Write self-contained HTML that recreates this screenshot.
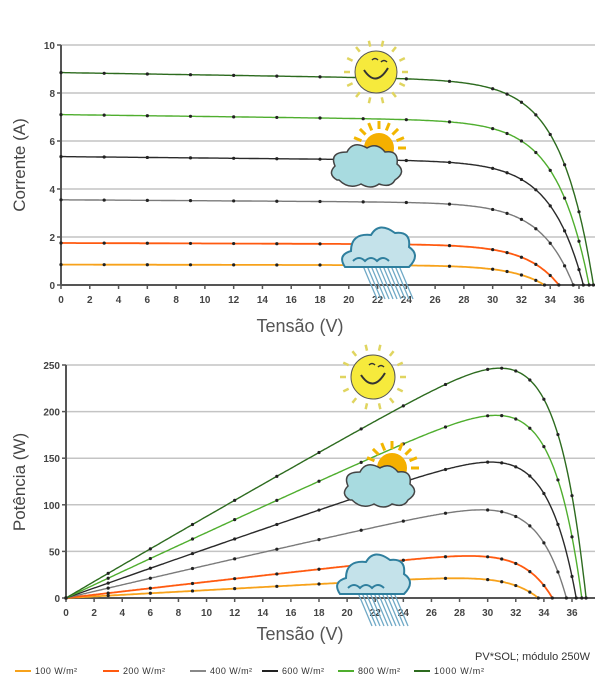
<!DOCTYPE html>
<html><head><meta charset="utf-8"><style>
html,body{margin:0;padding:0;background:#fff;}
svg{display:block;font-family:"Liberation Sans",sans-serif;}
.t{font-size:10px;font-weight:bold;fill:#444;}
</style></head><body>
<svg id="s" width="600" height="683" xmlns="http://www.w3.org/2000/svg"></svg>
<script>
const S=document.getElementById('s');let h='';
const ser=[[0.85,33.6,'#f7a21b',1.8],[1.75,34.6,'#ff5a10',1.8],[3.55,35.6,'#7a7a7a',1.4],[5.35,36.3,'#2a2a2a',1.4],[7.1,36.7,'#4fae2e',1.4],[8.85,37.0,'#2d6b1f',1.4]];
function I(s,V){let v=(s[0]-s[0]*0.0011*V)*(1-Math.exp((V-s[1])/2.25));return Math.max(v,0);}
function chart(x0,x36,yTop,yBot,max,step,power){
 const X=v=>x0+(x36-x0)*v/36, Y=v=>yBot-(yBot-yTop)*v/max;
 for(let g=0;g<=max+1e-9;g+=step){h+=`<line x1="${x0}" x2="595" y1="${Y(g)}" y2="${Y(g)}" stroke="#c4c4c4" stroke-width="1.5"/>`;
  h+=`<line x1="${x0-4}" x2="${x0}" y1="${Y(g)}" y2="${Y(g)}" stroke="#555" stroke-width="1.5"/>`;
  h+=`<text class="t" x="${x0-6}" y="${Y(g)+4}" text-anchor="end">${g}</text>`;}
 h+=`<line x1="${x0}" x2="${x0}" y1="${yTop}" y2="${yBot}" stroke="#555" stroke-width="2"/>`;
 h+=`<line x1="${x0}" x2="595" y1="${yBot}" y2="${yBot}" stroke="#555" stroke-width="2"/>`;
 for(let t=0;t<=36;t+=2){h+=`<line x1="${X(t)}" x2="${X(t)}" y1="${yBot}" y2="${yBot+4}" stroke="#555" stroke-width="1.5"/>`;
  h+=`<text class="t" x="${X(t)}" y="${yBot+18}" text-anchor="middle">${t}</text>`;}
 for(const s of ser){let p=[];
  for(let V=0;V<=s[1];V+=0.1){let i=I(s,V);p.push(X(V).toFixed(1)+','+Y(power?i*V:i).toFixed(1));}
  p.push(X(s[1]).toFixed(1)+','+yBot);
  h+=`<polyline points="${p.join(' ')}" fill="none" stroke="${s[2]}" stroke-width="${s[3]}"/>`;
  let vs=[0,3,6,9,12,15,18,21,24,27,30];for(let v=31;v<s[1];v+=1)vs.push(v);vs.push(s[1]);
  for(const V of vs){let i=I(s,V);h+=`<circle cx="${X(V)}" cy="${Y(power?i*V:i)}" r="1.6" fill="#222"/>`;}
 }
}
chart(61,579,45,285,10,2,false);
chart(66,572,365,598,250,50,true);
function sun(cx,cy,r){let s='';for(let k=0;k<14;k++){let a=k*Math.PI*2/14;s+=`<line x1="${cx+Math.cos(a)*(r+5)}" y1="${cy+Math.sin(a)*(r+5)}" x2="${cx+Math.cos(a)*(r+11)}" y2="${cy+Math.sin(a)*(r+11)}" stroke="#e0d560" stroke-width="2.5"/>`;}
 s+=`<circle cx="${cx}" cy="${cy}" r="${r}" fill="#f6ea3c" stroke="#555" stroke-width="1"/><path d="M${cx-12} ${cy-2} Q${cx} ${cy+16} ${cx+12} ${cy-4}" fill="none" stroke="#333" stroke-width="2"/><path d="M${cx-4} ${cy-12} q3 -3 6 0 M${cx+5} ${cy-10} q3 -3 6 0" fill="none" stroke="#333" stroke-width="1.5"/>`;return s;}
function pcloud(cx,cy){let s='';for(let k=0;k<9;k++){let a=-Math.PI+k*Math.PI/8;s+=`<line x1="${cx+12+Math.cos(a)*19}" y1="${cy-12+Math.sin(a)*19}" x2="${cx+12+Math.cos(a)*27}" y2="${cy-12+Math.sin(a)*27}" stroke="#f2b600" stroke-width="3"/>`;}
 s+=`<circle cx="${cx+12}" cy="${cy-12}" r="15" fill="#f5b000"/>`;
 s+=`<path d="M${cx-30} ${cy+20} q-10 -6 -2 -14 q-6 -14 12 -14 q6 -12 20 -4 q10 -6 18 4 q14 -2 12 12 q10 8 -2 16 q-4 8 -16 4 q-8 6 -18 0 q-12 6 -22 -4z" fill="#a8dbe0" stroke="#444" stroke-width="1.5"/>`;return s;}
function rain(cx,cy){let s='';for(let k=0;k<10;k++){s+=`<line x1="${cx-14+k*4}" y1="${cy+6}" x2="${cx+k*4+2}" y2="${cy+44}" stroke="#6fa9c6" stroke-width="1.3"/>`;}
 s+=`<path d="M${cx-30} ${cy+12} q-8 -12 6 -16 q0 -18 20 -16 q8 -14 24 -2 q16 -2 14 14 q12 8 0 20 z" fill="#c4e2ea" stroke="#2f7f9e" stroke-width="2"/>`;
 s+=`<path d="M${cx-22} ${cy+6} q6 -6 12 0 q6 -6 12 0 q6 -6 12 0" fill="none" stroke="#2f7f9e" stroke-width="2"/>`;return s;}
h+=sun(376,72,21)+pcloud(367,160)+rain(375,255);
h+=sun(373,377,22)+pcloud(380,480)+rain(370,582);
h+=`<text x="25" y="165" font-size="17" fill="#444" text-anchor="middle" transform="rotate(-90 25 165)">Corrente (A)</text>`;
h+=`<text x="300" y="332" font-size="18" fill="#555" text-anchor="middle">Tensão (V)</text>`;
h+=`<text x="25" y="482" font-size="17" fill="#444" text-anchor="middle" transform="rotate(-90 25 482)">Potência (W)</text>`;
h+=`<text x="300" y="640" font-size="18" fill="#555" text-anchor="middle">Tensão (V)</text>`;
h+=`<text x="590" y="660" font-size="11" fill="#333" text-anchor="end">PV*SOL; módulo 250W</text>`;
const lg=[[15,'100 W/m²','#f7a21b'],[103,'200 W/m²','#ff5a10'],[190,'400 W/m²','#888'],[262,'600 W/m²','#222'],[338,'800 W/m²','#4fae2e'],[414,'1000 W/m²','#2d6b1f']];
for(const l of lg){h+=`<line x1="${l[0]}" x2="${l[0]+16}" y1="671" y2="671" stroke="${l[2]}" stroke-width="2"/><text x="${l[0]+20}" y="674" font-size="9" fill="#333" textLength="${l[1].length>8?50:42}">${l[1]}</text>`;}
S.innerHTML=h;
</script>
</body></html>
